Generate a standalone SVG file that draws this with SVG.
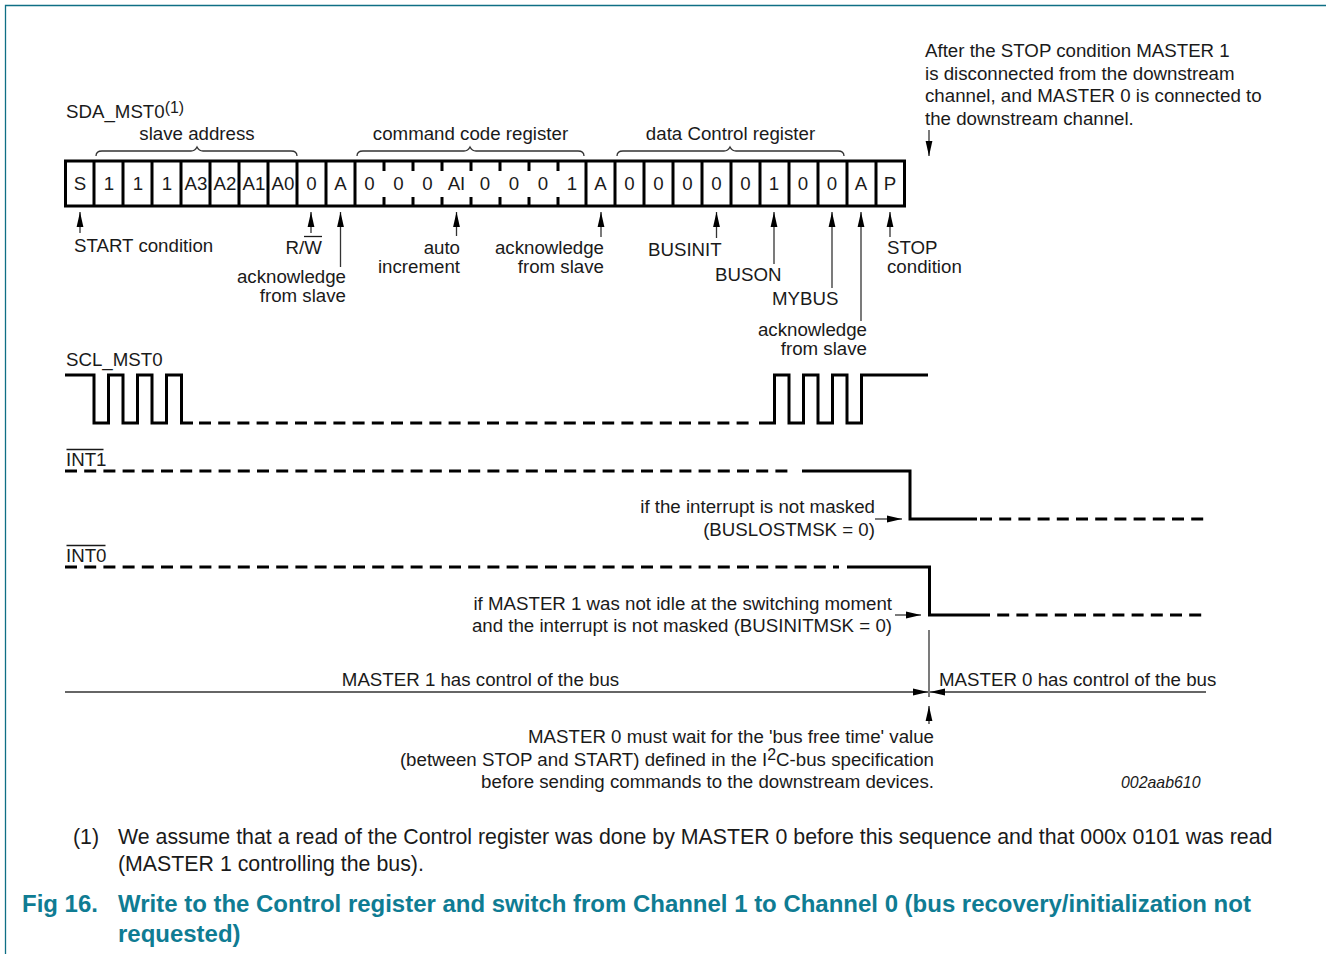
<svg xmlns="http://www.w3.org/2000/svg" width="1326" height="954" viewBox="0 0 1326 954">
<style>
text{font-family:"Liberation Sans",Arial,sans-serif;font-size:18.7px;fill:#1a1a1a}
.m{text-anchor:middle}.e{text-anchor:end}
.w{fill:none;stroke:#000;stroke-width:3}
.d{fill:none;stroke:#000;stroke-width:3;stroke-dasharray:12 7.2}
.t{fill:none;stroke:#333;stroke-width:1.3}
.c{fill:none;stroke:#000;stroke-width:3}
.f{font-size:21.33px}
.h{font-size:23.98px;font-weight:bold;fill:#0f7c93}
</style>
<defs>
<marker id="a" markerUnits="userSpaceOnUse" markerWidth="16" markerHeight="10" refX="15" refY="5" orient="auto"><path d="M0 1.6L15 5L0 8.4z" fill="#000"/></marker>
</defs>
<path d="M5.500 60V5.500H1326M5.500 60V954" fill="none" stroke="#0f6f85" stroke-width="1.300"/>
<g id="sda">
<rect class="c" x="65.500" y="161" width="839" height="45"/>
<path class="c" d="M94 161V206M123 161V206M152 161V206M181 161V206M210 161V206M239 161V206M268 161V206M297 161V206M326 161V206M355 161V206M586 161V206M615 161V206M644 161V206M673 161V206M702 161V206M731 161V206M760 161V206M789 161V206M818 161V206M847 161V206M876 161V206"/>
<path class="c" d="M384 161V171M384 197V206M413 161V171M413 197V206M442 161V171M442 197V206M471 161V171M471 197V206M500 161V171M500 197V206M529 161V171M529 197V206M558 161V171M558 197V206"/>
<text x="66" y="118">SDA_MST0<tspan font-size="15.900" dy="-5">(1)</tspan></text>
<g class="m">
<text class="m" x="80" y="190">S</text><text class="m" x="109" y="190">1</text><text class="m" x="138" y="190">1</text><text class="m" x="167" y="190">1</text><text class="m" x="196" y="190">A3</text><text class="m" x="225" y="190">A2</text><text class="m" x="254" y="190">A1</text><text class="m" x="283" y="190">A0</text><text class="m" x="311.500" y="190">0</text><text class="m" x="340.500" y="190">A</text><text class="m" x="369.500" y="190">0</text><text class="m" x="398.500" y="190">0</text><text class="m" x="427.500" y="190">0</text><text class="m" x="456.500" y="190">AI</text><text class="m" x="485" y="190">0</text><text class="m" x="514" y="190">0</text><text class="m" x="543" y="190">0</text><text class="m" x="572" y="190">1</text><text class="m" x="600.500" y="190">A</text><text class="m" x="629.500" y="190">0</text><text class="m" x="658.500" y="190">0</text><text class="m" x="687.500" y="190">0</text><text class="m" x="716.500" y="190">0</text><text class="m" x="745.500" y="190">0</text><text class="m" x="774" y="190">1</text><text class="m" x="803" y="190">0</text><text class="m" x="832" y="190">0</text><text class="m" x="861" y="190">A</text><text class="m" x="890" y="190">P</text>
</g>
</g>
<g id="braces">
<path class="t" d="M96 156Q96 151 102 151H191Q195 151 197 147Q199 151 203 151H291Q297 151 297 156"/>
<path class="t" d="M357 156Q357 151 363 151H464Q468 151 470 147Q472 151 476 151H578Q584 151 584 156"/>
<path class="t" d="M617 156Q617 151 623 151H724Q728 151 730 147Q732 151 736 151H838Q844 151 844 156"/>
<text class="m" x="197" y="140">slave address</text>
<text class="m" x="470.500" y="140">command code register</text>
<text class="m" x="730.500" y="140">data Control register</text>
</g>
<g id="connectors">
<path class="t" marker-end="url(#a)" d="M80 233V212"/>
<path class="t" marker-end="url(#a)" d="M311 233V212"/>
<path class="t" marker-end="url(#a)" d="M340.500 267V212"/>
<path class="t" marker-end="url(#a)" d="M456.500 236V212"/>
<path class="t" marker-end="url(#a)" d="M601 237V212"/>
<path class="t" marker-end="url(#a)" d="M716.500 238V212"/>
<path class="t" marker-end="url(#a)" d="M774 264V212"/>
<path class="t" marker-end="url(#a)" d="M832 288V212"/>
<path class="t" marker-end="url(#a)" d="M861 321V212"/>
<path class="t" marker-end="url(#a)" d="M890 237V212"/>
<path class="t" marker-end="url(#a)" d="M929 130V156"/>
<path class="t" marker-end="url(#a)" d="M875 519H902"/>
<path class="t" marker-end="url(#a)" d="M895 615H921"/>
<path class="t" d="M929 630V697"/>
<path class="t" marker-end="url(#a)" d="M65 692H928"/>
<path class="t" marker-end="url(#a)" d="M1206 692H930"/>
<path class="t" marker-end="url(#a)" d="M929 724V706"/>
</g>
<g id="labels">
<text x="74" y="252">START condition</text>
<text x="285.500" y="254">R/W</text>
<path d="M304 236.500H322" stroke="#1a1a1a" stroke-width="1.300"/>
<text class="e" x="346" y="283">acknowledge</text><text class="e" x="346" y="302">from slave</text>
<text class="e" x="460" y="254">auto</text><text class="e" x="460" y="273">increment</text>
<text class="e" x="604" y="254">acknowledge</text><text class="e" x="604" y="273">from slave</text>
<text x="648" y="256">BUSINIT</text>
<text x="715" y="281">BUSON</text>
<text x="772" y="305">MYBUS</text>
<text class="e" x="867" y="336">acknowledge</text><text class="e" x="867" y="355">from slave</text>
<text x="887" y="254">STOP</text><text x="887" y="273">condition</text>
<text x="925" y="57">After the STOP condition MASTER 1</text>
<text x="925" y="80">is disconnected from the downstream</text>
<text x="925" y="102">channel, and MASTER 0 is connected to</text>
<text x="925" y="125">the downstream channel.</text>
</g>
<g id="scl">
<text x="66" y="366">SCL_MST0</text>
<path class="w" d="M65 375H94V423H108.500V375H123V423H137.500V375H152V423H166.500V375H181.500V423H193"/>
<path class="d" d="M199 423H753"/>
<path class="w" d="M759 423H774.500V375H789V423H803.500V375H818V423H832.500V375H847V423H861.500V375H928"/>
</g>
<g id="int1">
<text x="66" y="466">INT1</text>
<path d="M66.500 449.500H103.500" stroke="#1a1a1a" stroke-width="1.300"/>
<path class="d" d="M65 471H790"/>
<path class="w" d="M802 471H910V519H977"/>
<path class="d" d="M980 519H1206"/>
<text class="e" x="875" y="513">if the interrupt is not masked</text>
<text class="e" x="875" y="536">(BUSLOSTMSK = 0)</text>
</g>
<g id="int0">
<text x="66" y="562">INT0</text>
<path d="M66.500 545.500H105.500" stroke="#1a1a1a" stroke-width="1.300"/>
<path class="d" d="M65 567H839"/>
<path class="w" d="M847 567H929.500V615H978"/>
<path class="d" d="M978 615H1203"/>
<text class="e" x="892" y="610">if MASTER 1 was not idle at the switching moment</text>
<text class="e" x="892" y="632">and the interrupt is not masked (BUSINITMSK = 0)</text>
</g>
<g id="notes">
<text class="m" x="480.500" y="686">MASTER 1 has control of the bus</text>
<text x="939" y="686">MASTER 0 has control of the bus</text>
<text class="e" x="934" y="743">MASTER 0 must wait for the 'bus free time' value</text>
<text class="e" x="934" y="766">(between STOP and START) defined in the I<tspan font-size="15.900" dy="-6">2</tspan><tspan dy="6">C-bus specification</tspan></text>
<text class="e" x="934" y="788">before sending commands to the downstream devices.</text>
<text x="1121" y="788" font-style="italic" style="font-size:15.900px">002aab610</text>
<text class="f" x="73" y="844">(1)</text>
<text class="f" x="118" y="844">We assume that a read of the Control register was done by MASTER 0 before this sequence and that 000x 0101 was read</text>
<text class="f" x="118" y="871">(MASTER 1 controlling the bus).</text>
<text class="h" x="22" y="912">Fig 16.</text>
<text class="h" x="118" y="912">Write to the Control register and switch from Channel 1 to Channel 0 (bus recovery/initialization not</text>
<text class="h" x="118" y="942">requested)</text>
</g>
</svg>
